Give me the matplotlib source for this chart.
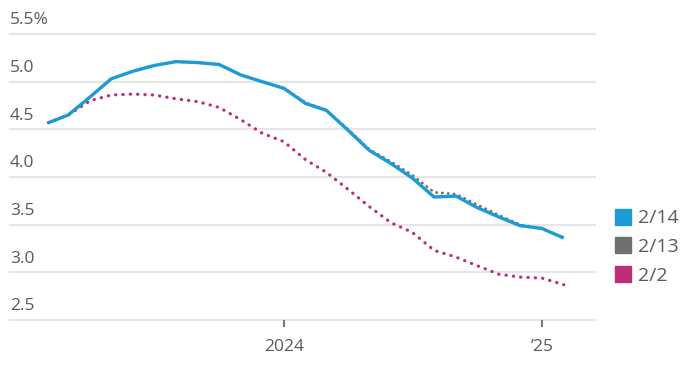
import matplotlib
matplotlib.use("Agg")
import matplotlib.pyplot as plt
import matplotlib.dates as mdates
from matplotlib.lines import Line2D
import pandas as pd

plt.rcParams['font.family'] = ['Open Sans', 'DejaVu Sans']

# monthly points, Feb 2023 .. Feb 2025
months = pd.date_range("2023-02-01", "2025-02-01", freq="MS")

# implied rate path, as of 2/14
rate_0214 = [4.57, 4.65, 4.84, 5.03, 5.11, 5.17, 5.21, 5.20, 5.18, 5.07, 5.00, 4.93,
             4.77, 4.70, 4.49, 4.28, 4.14, 3.99, 3.79, 3.80, 3.68, 3.58, 3.49, 3.46, 3.36]
# as of 2/13
rate_0213 = [4.57, 4.65, 4.84, 5.03, 5.11, 5.17, 5.21, 5.20, 5.18, 5.07, 5.00, 4.93,
             4.78, 4.70, 4.50, 4.29, 4.16, 4.02, 3.84, 3.82, 3.71, 3.60, 3.50, 3.46, 3.36]
# as of 2/2
rate_0202 = [4.57, 4.65, 4.80, 4.86, 4.87, 4.86, 4.82, 4.79, 4.73, 4.60, 4.46, 4.37,
             4.18, 4.05, 3.87, 3.69, 3.52, 3.42, 3.23, 3.16, 3.07, 2.98, 2.95, 2.94, 2.87]

yticks = [2.5, 3.0, 3.5, 4.0, 4.5, 5.0, 5.5]
ytick_labels = ["2.5", "3.0", "3.5", "4.0", "4.5", "5.0", "5.5%"]
xticks = pd.to_datetime(["2024-01-01", "2025-01-01"])
xtick_labels = ["2024", "\u201925"]

legend_labels = ["2/14", "2/13", "2/2"]
blue = "#1c9bd7"
gray = "#707070"
magenta = "#bf2c7a"
text_col = "#5a5a5a"

fig = plt.figure(figsize=(7, 3.68), dpi=100)
ax = fig.add_axes([10 / 700, 48 / 368, 585 / 700, 286 / 368])

# x scale: 21.5 px per month, Feb 2023 sits at x=48.5
day_px = 258 / 366
x0 = mdates.date2num(pd.Timestamp("2023-02-01")) - (48.5 - 10) / day_px
x1 = x0 + 585 / day_px
ax.set_xlim(x0, x1)
ax.set_ylim(2.5, 5.5)

for v in yticks:
    ax.axhline(v, color="#e6e6e6", lw=1.6, zorder=0, clip_on=False)

ax.plot(months, rate_0213, color=gray, lw=2.0, ls=(0, (0.1, 2.0)),
        dash_capstyle="round", zorder=2, clip_on=False)
ax.plot(months, rate_0202, color=magenta, lw=2.3, ls=(0, (0.1, 2.2)),
        dash_capstyle="round", zorder=2, clip_on=False)
ax.plot(months, rate_0214, color=blue, lw=2.4, zorder=3, clip_on=False,
        solid_capstyle="butt")

for s in ax.spines.values():
    s.set_visible(False)

ax.set_yticks([])
for v, lab in zip(yticks, ytick_labels):
    ax.annotate(lab, xy=(0, v), xycoords=("axes fraction", "data"),
                xytext=(0, 4), textcoords="offset points",
                ha="left", va="bottom", fontsize=12.5, color=text_col)

ax.set_xticks(mdates.date2num(xticks))
ax.set_xticklabels(xtick_labels, fontsize=12.5, color=text_col)
ax.tick_params(axis="x", length=5, width=1.5, color="#777777", pad=9)

handles = [Line2D([], [], marker="s", ls="", color=c, markersize=11)
           for c in (blue, gray, magenta)]
fig.legend(handles, legend_labels, loc="center left",
           bbox_to_anchor=(594 / 700, 1 - 247 / 368), frameon=False,
           fontsize=14, handletextpad=0.15, labelspacing=0.55,
           labelcolor=text_col, handlelength=1.2)

fig.savefig("out.png", dpi=100, facecolor="white")
